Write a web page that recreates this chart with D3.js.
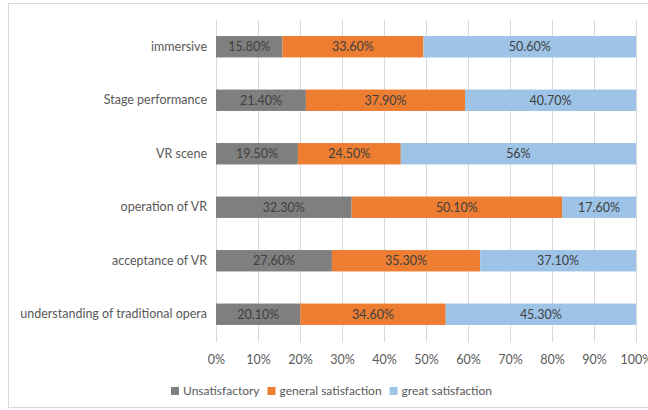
<!DOCTYPE html>
<html>
<head>
<meta charset="utf-8">
<script src="https://cdn.jsdelivr.net/npm/d3@7"></script>
<style>
  body { margin: 0; background: #fff; }
  svg text { font-family: Lato, "Open Sans", sans-serif; }
</style>
</head>
<body>
<div id="chartDiv"></div>
<script>
'use strict';

const categories = [
    'immersive',
    'Stage performance',
    'VR scene',
    'operation of VR',
    'acceptance of VR',
    'understanding of traditional opera'
];
const seriesNames = ['Unsatisfactory', 'general satisfaction', 'great satisfaction'];
const unsatisfactory = [15.8, 21.4, 19.5, 32.3, 27.6, 20.1];
const generalSatisfaction = [33.6, 37.9, 24.5, 50.1, 35.3, 34.6];
const greatSatisfaction = [50.6, 40.7, 56, 17.6, 37.1, 45.3];
const xTicks = [0, 10, 20, 30, 40, 50, 60, 70, 80, 90, 100];

const colors = ['#7f7f7f', '#ed7d31', '#9dc3e6'];

const width = 648, height = 410;
const margin = { top: 20, right: 12, bottom: 69, left: 216 };
const plotW = width - margin.left - margin.right;
const plotH = height - margin.top - margin.bottom;

const rows = categories.map((c, i) => ({
    cat: c,
    s0: unsatisfactory[i],
    s1: generalSatisfaction[i],
    s2: greatSatisfaction[i]
}));

const stack = d3.stack().keys(['s0', 's1', 's2'])(rows);

const xScale = d3.scaleLinear().domain([0, 100]).range([0, plotW]);
const yScale = d3.scaleBand().domain(categories).range([0, plotH]).paddingInner(0.6).paddingOuter(0.3);

const fmt = d => Number.isInteger(d) ? d + '%' : d.toFixed(2) + '%';

const svg = d3.select('#chartDiv').append('svg')
    .attr('width', width)
    .attr('height', height);

// chart frame (right edge runs off the picture)
svg.append('rect')
    .attr('x', 8.5).attr('y', 3.5)
    .attr('width', 700).attr('height', 404)
    .attr('fill', '#fff')
    .attr('stroke', '#d9d9d9');

const g = svg.append('g')
    .attr('transform', `translate(${margin.left},${margin.top})`);

// gridlines
g.append('g')
    .selectAll('line')
    .data(xTicks)
    .join('line')
    .attr('x1', d => Math.round(xScale(d)) + 0.5)
    .attr('x2', d => Math.round(xScale(d)) + 0.5)
    .attr('y1', 0)
    .attr('y2', plotH + 1)
    .attr('stroke', '#d9d9d9');

// bars
const layers = g.append('g')
    .selectAll('g')
    .data(stack)
    .join('g')
    .attr('fill', (d, i) => colors[i]);

layers.selectAll('rect')
    .data(d => d)
    .join('rect')
    .attr('x', d => xScale(d[0]))
    .attr('y', d => yScale(d.data.cat))
    .attr('width', d => xScale(d[1]) - xScale(d[0]))
    .attr('height', yScale.bandwidth());

// data labels
layers.selectAll('text')
    .data(d => d.map(p => ({ p, v: p[1] - p[0] })))
    .join('text')
    .attr('x', d => xScale((d.p[0] + d.p[1]) / 2))
    .attr('y', d => yScale(d.p.data.cat) + yScale.bandwidth() / 2)
    .attr('dy', '0.35em')
    .attr('text-anchor', 'middle')
    .attr('font-size', 12.5)
    .attr('fill', '#404040')
    .text(d => fmt(Math.round(d.v * 10) / 10));

// category axis
g.append('g')
    .call(d3.axisLeft(yScale).tickSize(0).tickPadding(9))
    .call(a => a.select('.domain').remove())
    .selectAll('text')
    .attr('font-size', 12.5)
    .attr('fill', '#595959');

// value axis
g.append('g')
    .attr('transform', `translate(0,${plotH})`)
    .call(d3.axisBottom(xScale).tickValues(xTicks).tickFormat(d => d + '%').tickSize(0).tickPadding(14))
    .call(a => a.select('.domain').remove())
    .selectAll('text')
    .attr('font-size', 12.5)
    .attr('fill', '#595959');

// legend
const legend = svg.append('g').attr('transform', 'translate(171,391)');
let lx = 0;
seriesNames.forEach((name, i) => {
    const item = legend.append('g').attr('transform', `translate(${lx},0)`);
    item.append('rect')
        .attr('x', 0).attr('y', -4)
        .attr('width', 8).attr('height', 8)
        .attr('fill', colors[i]);
    const t = item.append('text')
        .attr('x', 12)
        .attr('dy', '0.35em')
        .attr('font-size', 12)
        .attr('fill', '#595959')
        .text(name);
    lx += 12 + t.node().getComputedTextLength() + 8;
});
</script>
</body>
</html>
